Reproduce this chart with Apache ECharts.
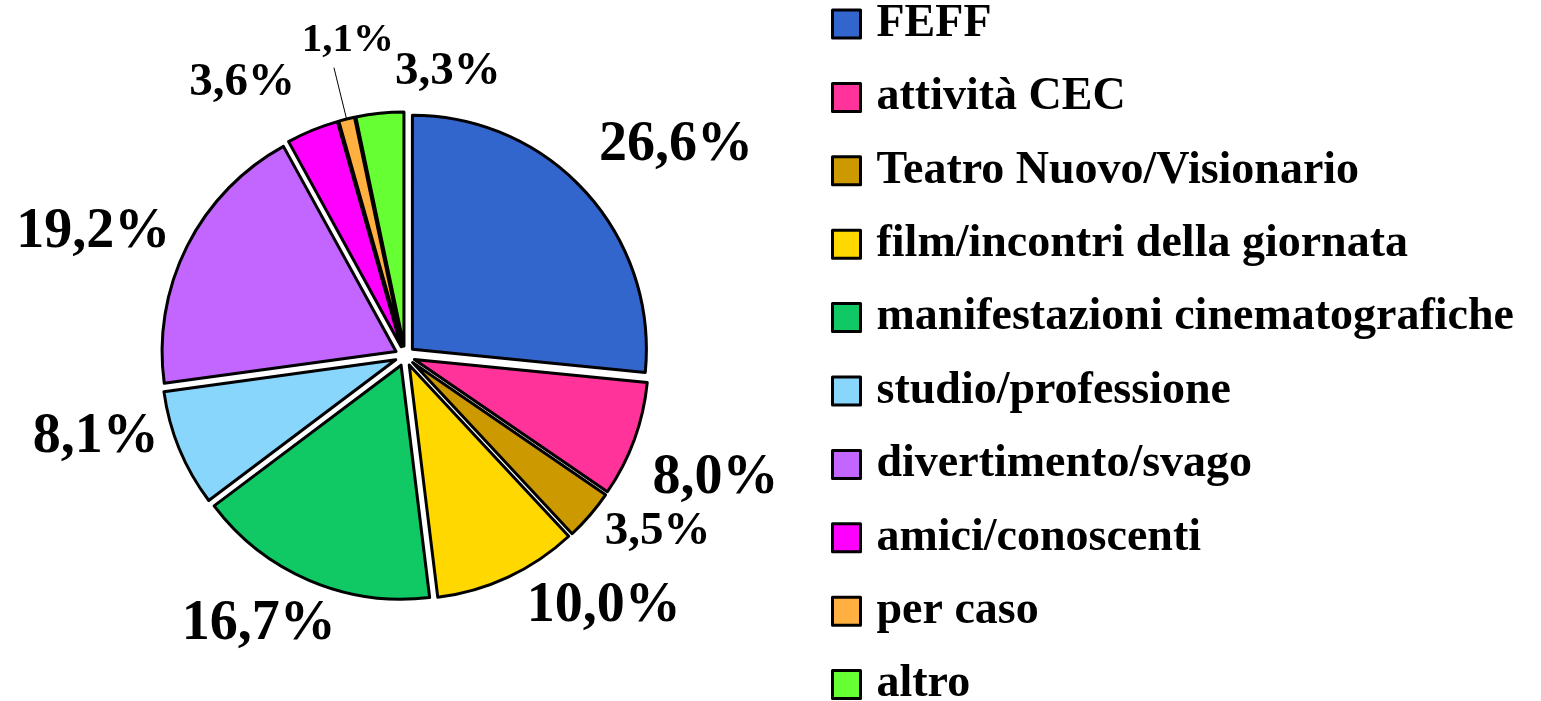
<!DOCTYPE html>
<html>
<head>
<meta charset="utf-8">
<script src="https://cdn.jsdelivr.net/npm/echarts@6/dist/echarts.min.js"></script>
<style>
  html, body { margin: 0; padding: 0; background: #fff; }
  #chart { width: 1541px; height: 701px; }
</style>
</head>
<body>
<div id="chart"></div>
<script>
const categories = ['FEFF', 'attività CEC', 'Teatro Nuovo/Visionario', 'film/incontri della giornata',
  'manifestazioni cinematografiche', 'studio/professione', 'divertimento/svago', 'amici/conoscenti', 'per caso', 'altro']
const values = [26.6, 8.0, 3.5, 10.0, 16.7, 8.1, 19.2, 3.6, 1.1, 3.3]

const colors = ['#3366CC', '#FF3399', '#CC9900', '#FFD800', '#10C864', '#88D6FB', '#C266FF', '#FF00FF', '#FFB040', '#66FF33']
const labelSize = [56, 56, 47, 56, 56, 56, 56, 47, 41, 47]
// small nudges so the labels sit where the original put them
const labelShift = [[-14, -27], [-15, 29], [-13, -3], [1, 2], [43, 16], [12, -23], [15, 0], [-1, -20], [65, -27], [129, -12]]

const font = { fontFamily: 'Liberation Serif', fontWeight: 'bold', color: '#000' }
const fmt = v => v.toFixed(1).replace('.', ',') + '%'

var chart = echarts.init(document.getElementById('chart'))
chart.setOption({
  animation: false,
  legend: {
    orient: 'vertical', left: 831, top: 1, height: 720, padding: 0,
    itemWidth: 28, itemHeight: 28, itemGap: 27.4,
    icon: 'rect', selectedMode: false,
    itemStyle: { borderColor: '#000', borderWidth: 3 },
    textStyle: { ...font, fontSize: 46, padding: [0, 0, 0, 11] },
    data: categories
  },
  series: [{
    type: 'pie',
    center: [405, 356],
    radius: 234,
    startAngle: 90,
    clockwise: true,
    selectedMode: 'multiple',
    selectedOffset: 10,
    avoidLabelOverlap: false,
    itemStyle: { borderColor: '#000', borderWidth: 3 },
    select: { itemStyle: { borderColor: '#000', borderWidth: 3 } },
    emphasis: { disabled: true },
    label: { show: true, position: 'outside', ...font, fontSize: 56, formatter: p => fmt(p.value) },
    labelLine: { show: false, length: 30, length2: 0 },
    labelLayout: p => ({ dx: labelShift[p.dataIndex][0], dy: labelShift[p.dataIndex][1] }),
    data: values.map((v, i) => ({
      name: categories[i],
      value: v,
      selected: true,
      itemStyle: { color: colors[i] },
      label: { fontSize: labelSize[i] },
      labelLine: i == 8 ? { show: true, length: 53, lineStyle: { color: '#000', width: 1 } } : { show: false }
    }))
  }]
})
</script>
</body>
</html>
